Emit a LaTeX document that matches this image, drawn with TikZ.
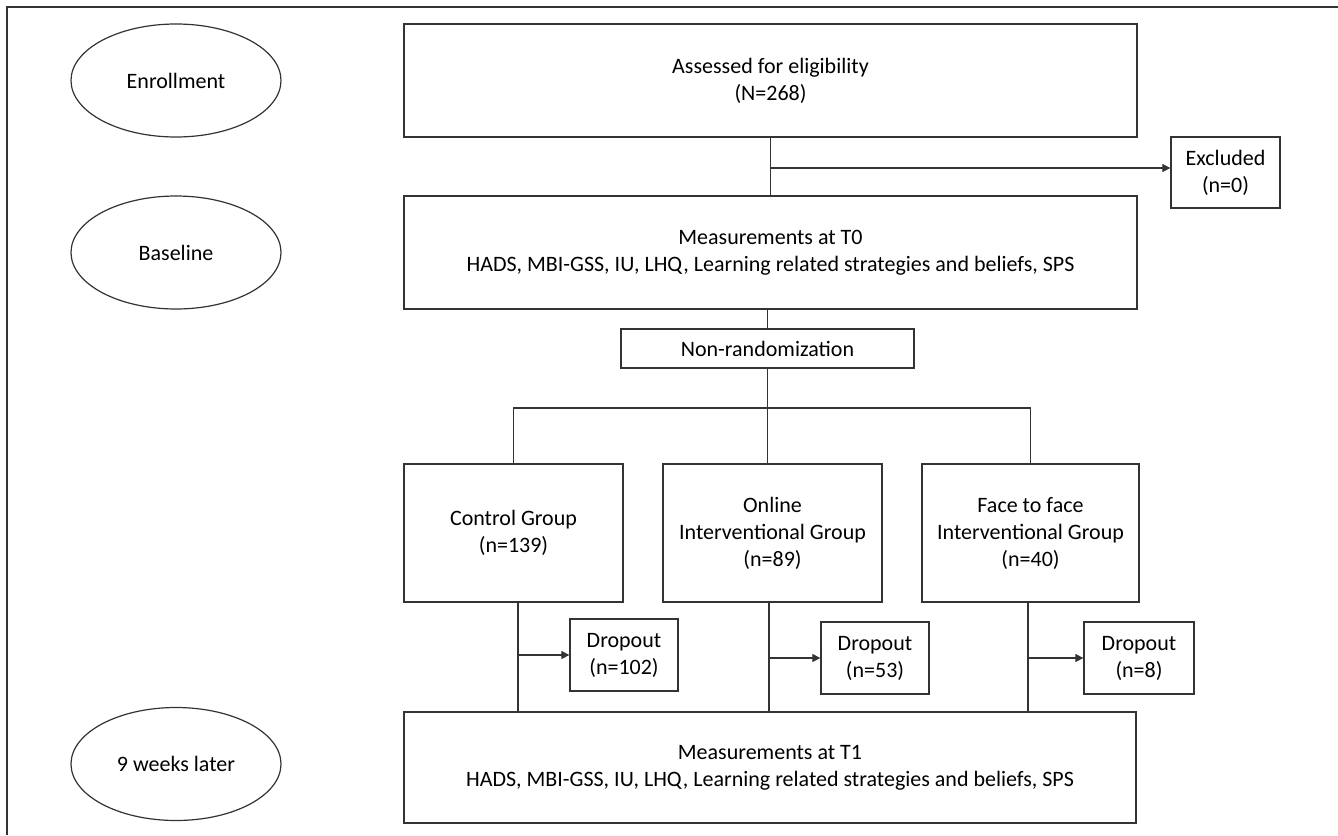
\documentclass[tikz,border=0pt]{standalone}
\usepackage{fontspec}
\setmainfont{Carlito}
\usetikzlibrary{arrows.meta,shapes.geometric}
\definecolor{ln}{HTML}{333333}
\tikzset{
  box/.style={draw=ln, line width=1.3pt, fill=white, align=center, inner sep=2pt},
  oval/.style={ellipse, draw=ln, line width=1.2pt, align=center, inner sep=0pt, minimum width=210pt, minimum height=113pt},
  conn/.style={draw=ln, line width=1.2pt},
  arr/.style={conn, -{Triangle[length=8pt,width=8pt]}},
  frameline/.style={draw=ln, line width=1.3pt}
}
\begin{document}
\begin{tikzpicture}[x=1pt,y=-1pt, font=\fontsize{22}{27}\selectfont]
\useasboundingbox (0,0) rectangle (1338,835);
\fill[white] (0,0) rectangle (1338,835);
% outer frame (cropped at right and bottom)
\coordinate (fa) at (7,835);
\coordinate (fb) at (7,7);
\coordinate (fc) at (1338,7);
\draw[frameline] (fa) -- (fb) -- (fc);

% stage ellipses
\node[oval] (enr) at (176,80.5) {Enrollment};
\node[oval] (base) at (176,252.5) {Baseline};
\node[oval] (wk) at (176,764) {9 weeks later};

% main boxes
\node[box, minimum width=733pt, minimum height=113pt] (top) at (770.5,80.5) {Assessed for eligibility\\(N=268)};
\node[box, minimum width=109pt, minimum height=71pt] (excl) at (1225.5,172.5) {Excluded\\(n=0)};
\node[box, minimum width=733pt, minimum height=113pt] (t0) at (770.5,252.5) {Measurements at T0\\HADS, MBI-GSS, IU, LHQ, Learning related strategies and beliefs, SPS};
\node[box, minimum width=293pt, minimum height=39pt] (nr) at (767.5,348.5) {Non-randomization};

\node[box, minimum width=219pt, minimum height=138pt] (ctrl) at (513.5,533) {Control Group\\(n=139)};
\node[box, minimum width=219pt, minimum height=138pt] (onl) at (772.5,533) {Online\\Interventional Group\\(n=89)};
\node[box, minimum width=217pt, minimum height=138pt] (face) at (1030.5,533) {Face to face\\Interventional Group\\(n=40)};

\node[box, minimum width=108pt, minimum height=72pt] (d1) at (624,655) {Dropout\\(n=102)};
\node[box, minimum width=108pt, minimum height=72pt] (d2) at (875,658) {Dropout\\(n=53)};
\node[box, minimum width=110pt, minimum height=72pt] (d3) at (1139,658) {Dropout\\(n=8)};

\node[box, minimum width=732pt, minimum height=111pt] (t1) at (770,767.5) {Measurements at T1\\HADS, MBI-GSS, IU, LHQ, Learning related strategies and beliefs, SPS};

% connectors
\coordinate (exm) at (770.5,168);
\draw[conn] (top.south) -- (t0.north);
\draw[arr] (exm) -- (exm -| excl.west);

\draw[conn] (nr.north |- t0.south) -- (nr.north);
\coordinate (br) at (767.5,408);
\draw[conn] (nr.south) -- (br);
\draw[conn] (ctrl.north) |- (br) -| (face.north);
\draw[conn] (br) -- (br |- onl.north);

\coordinate (c1) at (518,602);
\coordinate (c2) at (769,602);
\coordinate (c3) at (1028,602);
\draw[conn] (c1) -- (c1 |- t1.north);
\draw[conn] (c2) -- (c2 |- t1.north);
\draw[conn] (c3) -- (c3 |- t1.north);
\draw[arr] (c1 |- d1.west) -- (d1.west);
\draw[arr] (c2 |- d2.west) -- (d2.west);
\draw[arr] (c3 |- d3.west) -- (d3.west);
\end{tikzpicture}
\end{document}
